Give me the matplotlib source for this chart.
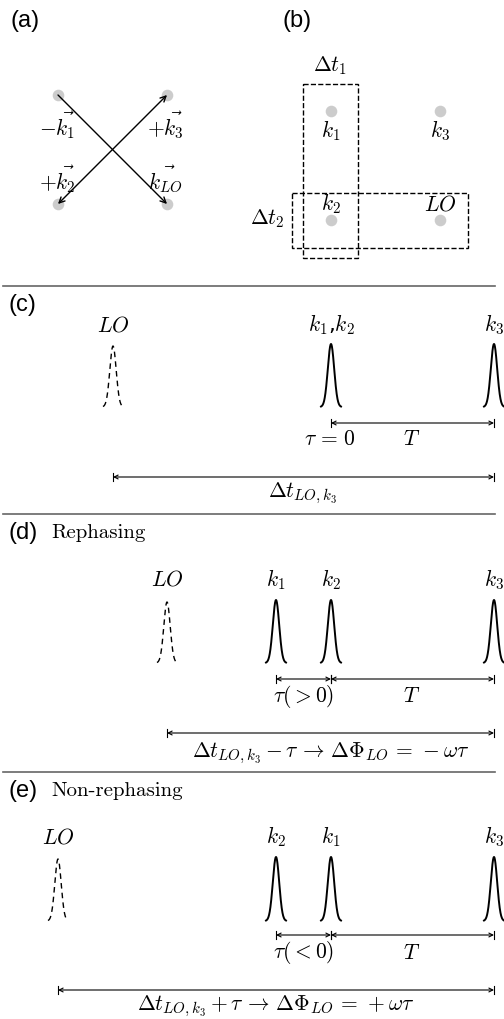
import numpy as np
import matplotlib.pyplot as plt

plt.rcParams['mathtext.fontset'] = 'cm'

# panel (a): beam spots and wave-vector labels
spot_x = [58, 167, 58, 167]
spot_y = [95, 95, 204, 204]
a_labels = [r'$-\vec{k_1}$', r'$+\vec{k_3}$', r'$+\vec{k_2}$', r'$\vec{k_{LO}}$']

# panel (b): spots in the delay-stage plane
b_spot_x = [331, 440, 331, 440]
b_spot_y = [111, 111, 220, 220]
b_labels = [r'$k_1$', r'$k_3$', r'$k_2$', r'$LO$']

# panels (c)-(e): pulse arrival times (LO is dashed)
lo_t = [113, 167, 58]
pulse_t = [[331, 494], [276, 331, 494], [276, 331, 494]]
pulse_lbl = [[r'$k_1$,$k_2$', r'$k_3$'], [r'$k_1$', r'$k_2$', r'$k_3$'],
             [r'$k_2$', r'$k_1$', r'$k_3$']]
tau_lbl = [r'$\tau\,=\,0$', r'$\tau(>0)$', r'$\tau(<0)$']
long_lbl = [r'$\Delta t_{LO,k_3}$',
            r'$\Delta t_{LO,k_3}-\tau\,\rightarrow\,\Delta\Phi_{LO}\,=\,-\omega\tau$',
            r'$\Delta t_{LO,k_3}+\tau\,\rightarrow\,\Delta\Phi_{LO}\,=\,+\omega\tau$']
titles = ['', 'Rephasing', 'Non-rephasing']

fig = plt.figure(figsize=(5.04, 10.19), dpi=100)
ax = fig.add_axes([0, 0, 1, 1])
ax.set_xlim(0, 504)
ax.set_ylim(1019, 0)
ax.axis('off')

sans = 'Liberation Sans'
fs = 15.5
tag_fs = 17


def darrow(x0, x1, y):
    ax.annotate('', xy=(x1, y), xytext=(x0, y),
                arrowprops=dict(arrowstyle='<->', lw=0.8, color='black',
                                shrinkA=0, shrinkB=0, mutation_scale=7))
    ax.plot([x0, x0], [y - 4, y + 4], color='black', lw=0.8)
    ax.plot([x1, x1], [y - 4, y + 4], color='black', lw=0.8)


def pulse(t, top, base, dashed=False):
    xs = np.linspace(-10, 10, 200)
    ys = base - (base - top) * np.exp(-xs ** 2 / (2 * 3.2 ** 2))
    if dashed:
        ax.plot(t + xs, ys, color='black', lw=1.0, ls=(0, (4, 3)))
    else:
        ax.plot(t + xs, ys, color='black', lw=1.4)


# (a)
ax.text(10, 21, '(a)', fontsize=tag_fs, family=sans, va='center')
ax.scatter(spot_x, spot_y, s=70, color='#cccccc', zorder=1, lw=0)
ax.annotate('', xy=(spot_x[3], spot_y[3]), xytext=(spot_x[0], spot_y[0]),
            arrowprops=dict(arrowstyle='->', lw=1.0, shrinkA=0, shrinkB=0))
ax.annotate('', xy=(spot_x[1], spot_y[1]), xytext=(spot_x[2], spot_y[2]),
            arrowprops=dict(arrowstyle='<->', lw=1.0, shrinkA=0, shrinkB=0))
a_off = [(-1, 30), (-2, 30), (-1, -25), (-2, -25)]
for x, y, lab, (dx, dy) in zip(spot_x, spot_y, a_labels, a_off):
    ax.text(x + dx, y + dy, lab, fontsize=fs, ha='center', va='center')

# (b)
ax.text(283, 21, '(b)', fontsize=tag_fs, family=sans, va='center')
ax.scatter(b_spot_x, b_spot_y, s=70, color='#cccccc', zorder=1, lw=0)
for x, y, lab, dy in zip(b_spot_x, b_spot_y, b_labels, [20, 20, -16, -16]):
    ax.text(x, y + dy, lab, fontsize=fs, ha='center', va='center')
ax.add_patch(plt.Rectangle((303, 84), 55, 174, fill=False, ls='--', lw=1.0))
ax.add_patch(plt.Rectangle((292, 193), 176, 55, fill=False, ls='--', lw=1.0))
ax.text(330, 66, r'$\Delta t_1$', fontsize=fs, ha='center', va='center')
ax.text(267, 219, r'$\Delta t_2$', fontsize=fs, ha='center', va='center')

# (c)-(e)
sep_y = [286, 514, 772]
panel_tag = ['(c)', '(d)', '(e)']
for i in range(3):
    y0 = sep_y[i]
    ax.plot([3, 495], [y0, y0], color='#666666', lw=1.2)
    ax.text(8, y0 + 19, panel_tag[i], fontsize=tag_fs, family=sans,
            va='center')
    if titles[i]:
        ax.text(51, y0 + 19, titles[i], fontsize=15, family='cmr10',
                va='center')
    if i == 0:
        lab_y, top, base, arr_y, arr_lbl_y, long_y, long_lbl_y = \
            325, 344, 407, 423, 439, 477, 493
    elif i == 1:
        lab_y, top, base, arr_y, arr_lbl_y, long_y, long_lbl_y = \
            580, 600, 663, 679, 696, 733, 753
    else:
        lab_y, top, base, arr_y, arr_lbl_y, long_y, long_lbl_y = \
            837, 857, 921, 935, 953, 990, 1006
    lo = lo_t[i]
    ax.text(lo, lab_y, r'$LO$', fontsize=fs, ha='center', va='center')
    pulse(lo, top + 2, base, dashed=True)
    for t, lab in zip(pulse_t[i], pulse_lbl[i]):
        ax.text(t, lab_y, lab, fontsize=fs, ha='center', va='center')
        pulse(t, top, base)
    ts = pulse_t[i]
    if len(ts) == 2:
        darrow(ts[0], ts[1], arr_y)
        ax.text(ts[0] - 1, arr_lbl_y, tau_lbl[i], fontsize=fs,
                ha='center', va='center')
    else:
        darrow(ts[0], ts[1], arr_y)
        darrow(ts[1], ts[2], arr_y)
        ax.text((ts[0] + ts[1]) / 2, arr_lbl_y, tau_lbl[i], fontsize=fs,
                ha='center', va='center')
    ax.text(412, arr_lbl_y, r'$T$', fontsize=fs, ha='center', va='center')
    darrow(lo, ts[-1], long_y)
    ax.text((lo + ts[-1]) / 2 + (0 if i else -1), long_lbl_y, long_lbl[i],
            fontsize=fs, ha='center', va='center')

fig.savefig('out.png', dpi=100)
